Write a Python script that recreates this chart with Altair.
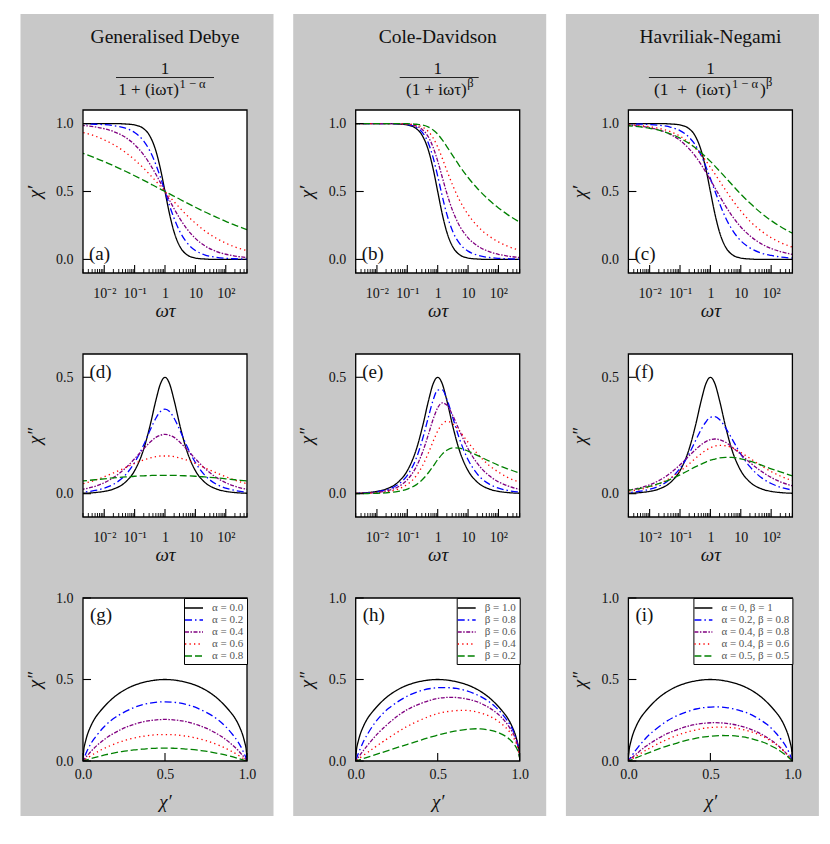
import altair as alt
import pandas as pd

FONT = "Liberation Serif"
W, H = 164, 163

# ---------------- data ----------------
# log10(omega*tau) sample positions
log_wt = [-12, -6, -4, -2.7, -2.3, -2, -1.7, -1.3, -1, -0.7, -0.5, -0.3, -0.15, 0,
          0.15, 0.3, 0.5, 0.7, 1, 1.3, 1.7, 2, 2.3, 2.7, 4, 6, 12]

# Debye curve (alpha = 0, beta = 1), common to all three columns
deb_re = [1, 1, 1, 1, 1, 1, 1, 0.997, 0.990, 0.962, 0.909, 0.799, 0.666, 0.5,
          0.334, 0.201, 0.091, 0.038, 0.010, 0.003, 0, 0, 0, 0, 0, 0, 0]
deb_im = [0, 0, 0, 0.002, 0.005, 0.010, 0.020, 0.050, 0.099, 0.192, 0.288, 0.401, 0.472, 0.5,
          0.472, 0.401, 0.288, 0.192, 0.099, 0.050, 0.020, 0.010, 0.005, 0.002, 0, 0, 0]

# Generalised Debye
gd_re_02 = [1, 1, 1, 0.998, 0.995, 0.992, 0.985, 0.966, 0.934, 0.871, 0.800, 0.698, 0.604, 0.5,
            0.396, 0.302, 0.200, 0.129, 0.066, 0.034, 0.015, 0.008, 0.005, 0.002, 0, 0, 0]
gd_im_02 = [0, 0, 0.001, 0.007, 0.014, 0.024, 0.040, 0.081, 0.134, 0.210, 0.270, 0.324, 0.353, 0.363,
            0.353, 0.324, 0.270, 0.210, 0.134, 0.081, 0.040, 0.024, 0.014, 0.007, 0.001, 0, 0]
gd_re_04 = [1, 1, 0.998, 0.986, 0.975, 0.962, 0.942, 0.898, 0.845, 0.769, 0.703, 0.627, 0.565, 0.5,
            0.435, 0.373, 0.297, 0.231, 0.155, 0.102, 0.058, 0.038, 0.025, 0.014, 0.002, 0, 0]
gd_im_04 = [0, 0, 0.003, 0.019, 0.032, 0.047, 0.069, 0.110, 0.150, 0.193, 0.220, 0.242, 0.251, 0.255,
            0.251, 0.242, 0.220, 0.193, 0.150, 0.110, 0.069, 0.047, 0.032, 0.019, 0.003, 0, 0]
gd_re_06 = [1, 0.997, 0.980, 0.935, 0.908, 0.880, 0.846, 0.788, 0.733, 0.671, 0.624, 0.576, 0.538, 0.5,
            0.462, 0.424, 0.376, 0.329, 0.267, 0.212, 0.154, 0.120, 0.092, 0.065, 0.020, 0.003, 0]
gd_im_06 = [0, 0.002, 0.014, 0.043, 0.058, 0.073, 0.089, 0.112, 0.130, 0.145, 0.153, 0.159, 0.162, 0.162,
            0.162, 0.159, 0.153, 0.145, 0.130, 0.112, 0.089, 0.073, 0.058, 0.043, 0.014, 0.002, 0]
gd_re_08 = [0.996, 0.943, 0.867, 0.781, 0.747, 0.720, 0.690, 0.649, 0.616, 0.582, 0.559, 0.535, 0.518, 0.5,
            0.482, 0.465, 0.441, 0.418, 0.384, 0.351, 0.310, 0.280, 0.253, 0.219, 0.133, 0.057, 0.004]
gd_im_08 = [0.001, 0.017, 0.037, 0.055, 0.060, 0.064, 0.068, 0.072, 0.075, 0.077, 0.078, 0.079, 0.079, 0.079,
            0.079, 0.079, 0.078, 0.077, 0.075, 0.072, 0.068, 0.064, 0.060, 0.055, 0.037, 0.017, 0.001]

# Cole-Davidson
cd_re_08 = [1, 1, 1, 1, 1, 1, 1, 0.998, 0.993, 0.972, 0.934, 0.852, 0.749, 0.613,
            0.466, 0.333, 0.203, 0.123, 0.061, 0.032, 0.014, 0.008, 0.005, 0.002, 0, 0, 0]
cd_im_08 = [0, 0, 0, 0.002, 0.004, 0.008, 0.016, 0.040, 0.079, 0.154, 0.234, 0.332, 0.402, 0.445,
            0.446, 0.407, 0.325, 0.242, 0.146, 0.085, 0.041, 0.024, 0.014, 0.007, 0.001, 0, 0]
cd_re_06 = [1, 1, 1, 1, 1, 1, 1, 0.999, 0.995, 0.981, 0.955, 0.899, 0.825, 0.724,
            0.605, 0.487, 0.354, 0.255, 0.159, 0.101, 0.057, 0.037, 0.025, 0.014, 0.002, 0, 0]
cd_im_06 = [0, 0, 0, 0.001, 0.003, 0.006, 0.012, 0.030, 0.060, 0.117, 0.178, 0.257, 0.320, 0.369,
            0.390, 0.381, 0.335, 0.276, 0.193, 0.131, 0.077, 0.051, 0.034, 0.019, 0.003, 0, 0]
cd_re_04 = [1, 1, 1, 1, 1, 1, 1, 0.999, 0.997, 0.989, 0.974, 0.940, 0.894, 0.828,
            0.745, 0.655, 0.542, 0.444, 0.331, 0.248, 0.170, 0.129, 0.097, 0.067, 0.020, 0.003, 0]
cd_im_04 = [0, 0, 0, 0.001, 0.002, 0.004, 0.008, 0.020, 0.040, 0.078, 0.120, 0.177, 0.225, 0.269,
            0.299, 0.311, 0.300, 0.272, 0.221, 0.173, 0.121, 0.093, 0.070, 0.049, 0.015, 0.002, 0]
cd_re_02 = [1, 1, 1, 1, 1, 1, 1, 1, 0.999, 0.995, 0.989, 0.974, 0.953, 0.922,
            0.880, 0.831, 0.762, 0.695, 0.603, 0.524, 0.435, 0.379, 0.330, 0.274, 0.151, 0.060, 0.004]
cd_im_02 = [0, 0, 0, 0, 0.001, 0.002, 0.004, 0.010, 0.020, 0.039, 0.061, 0.091, 0.118, 0.146,
            0.170, 0.187, 0.197, 0.196, 0.183, 0.165, 0.140, 0.122, 0.107, 0.089, 0.049, 0.019, 0.001]

# Havriliak-Negami
hn_re_a2b8 = [1, 1, 1, 0.998, 0.996, 0.993, 0.988, 0.973, 0.948, 0.899, 0.844, 0.763, 0.685, 0.596,
              0.503, 0.413, 0.307, 0.224, 0.137, 0.085, 0.045, 0.029, 0.018, 0.010, 0.001, 0, 0]
hn_im_a2b8 = [0, 0, 0, 0.005, 0.011, 0.019, 0.032, 0.066, 0.109, 0.172, 0.225, 0.277, 0.308, 0.328,
              0.331, 0.319, 0.283, 0.238, 0.170, 0.116, 0.067, 0.044, 0.028, 0.016, 0.002, 0, 0]
hn_re_a4b8 = [1, 1, 0.998, 0.989, 0.980, 0.970, 0.954, 0.918, 0.876, 0.814, 0.761, 0.697, 0.643, 0.586,
              0.527, 0.468, 0.393, 0.325, 0.239, 0.174, 0.112, 0.080, 0.058, 0.037, 0.009, 0.001, 0]
hn_im_a4b8 = [0, 0, 0.003, 0.015, 0.026, 0.038, 0.056, 0.090, 0.124, 0.163, 0.188, 0.211, 0.224, 0.232,
              0.235, 0.232, 0.221, 0.202, 0.169, 0.134, 0.094, 0.070, 0.051, 0.034, 0.008, 0.001, 0]
hn_re_a4b6 = [1, 1, 0.999, 0.991, 0.985, 0.977, 0.965, 0.939, 0.907, 0.860, 0.819, 0.769, 0.726, 0.679,
              0.629, 0.578, 0.510, 0.445, 0.357, 0.282, 0.205, 0.160, 0.125, 0.090, 0.031, 0.006, 0]
hn_im_a4b6 = [0, 0, 0.002, 0.011, 0.019, 0.029, 0.042, 0.069, 0.096, 0.128, 0.151, 0.172, 0.186, 0.197,
              0.205, 0.208, 0.206, 0.198, 0.177, 0.152, 0.118, 0.095, 0.076, 0.056, 0.019, 0.004, 0]
hn_re_a5b5 = [1, 1, 0.996, 0.984, 0.975, 0.965, 0.951, 0.923, 0.893, 0.854, 0.822, 0.785, 0.754, 0.722,
              0.687, 0.651, 0.602, 0.553, 0.481, 0.415, 0.336, 0.286, 0.242, 0.193, 0.092, 0.029, 0.001]
hn_im_a5b5 = [0, 0, 0.003, 0.015, 0.023, 0.032, 0.043, 0.063, 0.081, 0.101, 0.115, 0.127, 0.136, 0.144,
              0.149, 0.154, 0.156, 0.156, 0.150, 0.140, 0.122, 0.107, 0.094, 0.077, 0.038, 0.012, 0]

gd_labels = ["α = 0.0", "α = 0.2", "α = 0.4", "α = 0.6", "α = 0.8"]
cd_labels = ["β = 1.0", "β = 0.8", "β = 0.6", "β = 0.4", "β = 0.2"]
hn_labels = ["α = 0, β = 1", "α = 0.2, β = 0.8", "α = 0.4, β = 0.8",
             "α = 0.4, β = 0.6", "α = 0.5, β = 0.5"]

major_ticks = [0.01, 0.1, 1, 10, 100]
minor_ticks = [0.002, 0.003, 0.004, 0.005, 0.006, 0.007, 0.008, 0.009,
               0.02, 0.03, 0.04, 0.05, 0.06, 0.07, 0.08, 0.09,
               0.2, 0.3, 0.4, 0.5, 0.6, 0.7, 0.8, 0.9,
               2, 3, 4, 5, 6, 7, 8, 9,
               20, 30, 40, 50, 60, 70, 80, 90,
               200, 300, 400, 500]

COLORS = ["#000000", "#0000ff", "#800080", "#ff0000", "#008000"]
DASHES = [[1, 0], [7, 3, 1.5, 3], [4, 1.5, 1.5, 1.5], [1.3, 3.2], [7, 3]]


def model_df(labels, re_list, im_list):
    rows = []
    for lab, re, im in zip(labels, re_list, im_list):
        for i, (lw, r, m) in enumerate(zip(log_wt, re, im)):
            rows.append({"series": lab, "wt": 10.0 ** lw, "re": r, "im": m, "i": i})
    return pd.DataFrame(rows)


gd_df = model_df(gd_labels, [deb_re, gd_re_02, gd_re_04, gd_re_06, gd_re_08],
                 [deb_im, gd_im_02, gd_im_04, gd_im_06, gd_im_08])
cd_df = model_df(cd_labels, [deb_re, cd_re_08, cd_re_06, cd_re_04, cd_re_02],
                 [deb_im, cd_im_08, cd_im_06, cd_im_04, cd_im_02])
hn_df = model_df(hn_labels, [deb_re, hn_re_a2b8, hn_re_a4b8, hn_re_a4b6, hn_re_a5b5],
                 [deb_im, hn_im_a2b8, hn_im_a4b8, hn_im_a4b6, hn_im_a5b5])

ONE = pd.DataFrame({"k": [0]})

LOG_LABELS = ("datum.value < 0.05 ? '10\u207b\u00b2' : datum.value < 0.5 ? '10\u207b\u00b9' : "
              "datum.value < 5 ? '1' : datum.value < 50 ? '10' : '10\u00b2'")


def log_scale():
    return alt.Scale(type="log", domain=[0.002, 500], nice=False)


def lin_scale(lo, hi):
    return alt.Scale(domain=[lo, hi], nice=False, zero=False)


def x_axis_log():
    return alt.Axis(values=major_ticks, labelExpr=LOG_LABELS, title="ωτ", labelPadding=13,
                    titleY=37, titleBaseline="middle", labelFlush=False, titleFontStyle="italic",
                    zindex=1)


def x_axis_unit():
    return alt.Axis(values=[0, 0.5, 1], format=".1f", title="χ′", labelPadding=6,
                    titleY=40, titleBaseline="middle", labelFlush=False, titleFontStyle="italic",
                    zindex=1)


def y_axis(title, vals):
    return alt.Axis(values=vals, format=".1f", title=title, labelPadding=10, titleX=-49,
                    titleY=H / 2, titleBaseline="middle", titleAngle=270, labelFlush=False,
                    titleFontStyle="italic", zindex=1)


def text_mark(s, x, y, size, align="center", color="#111111"):
    return alt.Chart(ONE).mark_text(text=s, font=FONT, fontSize=size, align=align,
                                    baseline="alphabetic", color=color).encode(
        x=alt.value(x), y=alt.value(y))


EN = "\u2002"
HEADERS = {
    "gd": {"title": "Generalised Debye", "line": (33, 131),
           "parts": [("1 + (iωτ)", 96, -15.5, 17, "right"),
                     ("1 − α", 96.5, -22.5, 12.5, "left")]},
    "cd": {"title": "Cole-Davidson", "line": (44, 123),
           "parts": [("(1 + iωτ)", 111, -15.5, 17, "right"),
                     ("β", 111.5, -23.5, 12.5, "left")]},
    "hn": {"title": "Havriliak-Negami", "line": (20.5, 143),
           "parts": [("(1" + EN + "+" + EN + "(iωτ)", 102.5, -15.5, 17.5, "right"),
                     ("1 − α", 103.5, -22.5, 12.5, "left"),
                     (")", 131.5, -15.5, 17.5, "left"),
                     ("β", 137.5, -24.5, 12.5, "left")]},
}


def panel(df, labels, kind, letter, header=None):
    if kind == "re":
        xs, ys = log_scale(), lin_scale(-0.1, 1.1)
        xf, yf = "wt", "re"
        xaxis, yaxis = x_axis_log(), y_axis("χ′", [0, 0.5, 1])
        yt, xt_major, xt_minor = [0, 0.5, 1], major_ticks, minor_ticks
        interp, legend, ordered = "monotone", None, False
        lab_xy = (6, H - 13.5)
    elif kind == "im":
        xs, ys = log_scale(), lin_scale(-0.1, 0.6)
        xf, yf = "wt", "im"
        xaxis, yaxis = x_axis_log(), y_axis("χ″", [0, 0.5])
        yt, xt_major, xt_minor = [0, 0.5], major_ticks, minor_ticks
        interp, legend, ordered = "monotone", None, False
        lab_xy = (6.5, 23.5)
    else:
        xs, ys = lin_scale(0, 1), lin_scale(0, 1)
        xf, yf = "re", "im"
        xaxis, yaxis = x_axis_unit(), y_axis("χ″", [0, 0.5, 1])
        yt, xt_major, xt_minor = [0, 0.5, 1], [0, 0.5, 1], []
        interp, ordered = "cardinal", True
        legend = alt.Legend(orient="top-right", offset=0, title=None, padding=3,
                            fillColor="white", strokeColor="black", cornerRadius=0,
                            labelFont=FONT, labelFontSize=11, labelColor="#555555",
                            symbolType="M-1.5,0H1.5", symbolSize=144, symbolStrokeWidth=1.3,
                            rowPadding=0, labelOffset=11)
        lab_xy = (7, 22.5)

    layers = []
    if header is not None:
        layers.append(alt.Chart(ONE).mark_rect(fill="#c8c8c8").encode(
            x=alt.value(-62.5), x2=alt.value(190.5), y=alt.value(-96), y2=alt.value(706)))
    layers.append(alt.Chart(ONE).mark_rect(fill="white").encode(
        x=alt.value(0), x2=alt.value(W), y=alt.value(0), y2=alt.value(H)))

    enc = {
        "x": alt.X(xf, type="quantitative", scale=xs, axis=xaxis),
        "y": alt.Y(yf, type="quantitative", scale=ys, axis=yaxis),
        "color": alt.Color("series:N", scale=alt.Scale(domain=labels, range=COLORS), legend=legend),
        "strokeDash": alt.StrokeDash("series:N", scale=alt.Scale(domain=labels, range=DASHES),
                                     legend=legend),
    }
    if ordered:
        enc["order"] = alt.Order("i:Q")
    layers.append(alt.Chart(df).mark_line(interpolate=interp, clip=True, strokeWidth=1.3).encode(**enc))

    # inward tick marks (same axis definitions so that the axes merge)
    layers.append(alt.Chart(pd.DataFrame({"t": xt_major})).mark_rule(color="black", strokeWidth=1.1).encode(
        x=alt.X("t:Q", scale=xs, axis=xaxis), y=alt.value(H), y2=alt.value(H - 8)))
    if xt_minor:
        layers.append(alt.Chart(pd.DataFrame({"t": xt_minor})).mark_rule(color="black", strokeWidth=0.9).encode(
            x=alt.X("t:Q", scale=xs, axis=xaxis), y=alt.value(H), y2=alt.value(H - 4)))
    layers.append(alt.Chart(pd.DataFrame({"t": yt})).mark_rule(color="black", strokeWidth=1.1).encode(
        y=alt.Y("t:Q", scale=ys, axis=yaxis), x=alt.value(0), x2=alt.value(8)))

    layers.append(alt.Chart(ONE).mark_rect(filled=False, stroke="black", strokeWidth=1.3).encode(
        x=alt.value(0), x2=alt.value(W), y=alt.value(0), y2=alt.value(H)))
    layers.append(text_mark("(" + letter + ")", lab_xy[0], lab_xy[1], 19, align="left"))

    if header is not None:
        hd = HEADERS[header]
        layers.append(text_mark(hd["title"], W / 2, -67.5, 19.5))
        layers.append(text_mark("1", W / 2, -36.5, 17))
        layers.append(alt.Chart(ONE).mark_rule(color="#111111", strokeWidth=0.9).encode(
            x=alt.value(hd["line"][0]), x2=alt.value(hd["line"][1]), y=alt.value(-32.5)))
        for s, x, y, size, align in hd["parts"]:
            layers.append(text_mark(s, x, y, size, align=align))

    return alt.layer(*layers).properties(width=W, height=H)


def column(df, labels, letters, header):
    c = alt.vconcat(
        panel(df, labels, "re", letters[0], header),
        panel(df, labels, "im", letters[1]),
        panel(df, labels, "cc", letters[2]),
        spacing=81, bounds="flush",
    )
    return c.resolve_scale(x="independent", y="independent", color="independent",
                           strokeDash="independent")


chart = alt.hconcat(
    column(gd_df, gd_labels, "adg", "gd"),
    column(cd_df, cd_labels, "beh", "cd"),
    column(hn_df, hn_labels, "cfi", "hn"),
    spacing=18.7, bounds="full",
).resolve_scale(x="independent", y="independent", color="independent", strokeDash="independent")

chart = chart.properties(
    padding={"left": 12, "top": 5, "right": 0, "bottom": 0}, background="white"
).configure_view(stroke="transparent").configure_axis(
    labelFont=FONT, labelFontSize=14, labelColor="#111111",
    titleFont=FONT, titleFontSize=19, titleFontWeight="normal", titleColor="#111111",
    ticks=False, tickSize=0, domain=False, grid=False, labelOverlap=False,
)

chart.save("out.html", embed_options={"renderer": "svg", "actions": False})
